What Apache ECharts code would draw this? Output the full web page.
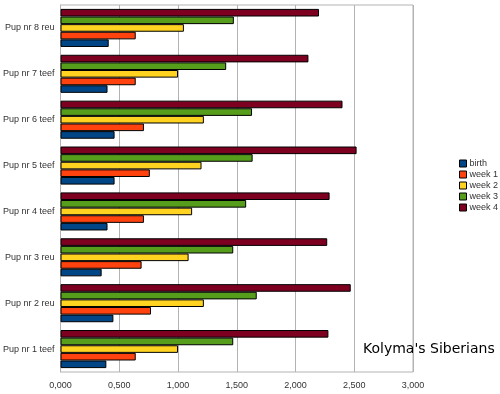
<!DOCTYPE html>
<html><head><meta charset="utf-8">
<script src="https://cdn.jsdelivr.net/npm/echarts@6/dist/echarts.min.js"></script>
<style>html,body{margin:0;padding:0;background:#fff}#c{width:500px;height:394px}</style>
</head><body><div id="c"></div>
<script>
var categories = ['Pup nr 1 teef','Pup nr 2 reu','Pup nr 3 reu','Pup nr 4 teef','Pup nr 5 teef','Pup nr 6 teef','Pup nr 7 teef','Pup nr 8 reu'];
var seriesNames = ['birth','week 1','week 2','week 3','week 4'];
var birth = [0.39,0.45,0.35,0.40,0.46,0.46,0.40,0.41];
var week1 = [0.64,0.77,0.69,0.71,0.76,0.71,0.64,0.64];
var week2 = [1.00,1.22,1.09,1.12,1.20,1.22,1.00,1.05];
var week3 = [1.47,1.67,1.47,1.58,1.635,1.63,1.41,1.475];
var week4 = [2.28,2.47,2.27,2.29,2.52,2.40,2.11,2.20];
var colors = ['#004586','#ff420e','#ffd320','#579d1c','#7e0021'];
var allData = [birth, week1, week2, week3, week4];

var series = seriesNames.map(function(n, i){
  return {name: n, type: 'bar', data: allData[i], barGap: '0%', barCategoryGap: '17%',
    itemStyle: {color: colors[i], borderColor: '#000', borderWidth: 1}};
}).reverse();

var chart = echarts.init(document.getElementById('c'));
chart.setOption({
  animation: false,
  backgroundColor: '#fff',
  grid: {left: 59, right: 87, top: 5, bottom: 22, show: true, borderColor: '#b3b3b3', borderWidth: 1},
  legend: {
    orient: 'vertical', left: 459, top: 159, width: 60, itemWidth: 7, itemHeight: 7, itemGap: 2,
    icon: 'rect', padding: 0,
    itemStyle: {borderColor: '#000', borderWidth: 1},
    textStyle: {fontSize: 9, color: '#333', fontFamily: 'Liberation Sans', padding: [0,0,0,-2]},
    data: seriesNames
  },
  xAxis: {
    type: 'value', min: 0, max: 3, interval: 0.5,
    axisLine: {show: false}, axisTick: {show: false},
    splitLine: {lineStyle: {color: '#b3b3b3'}},
    axisLabel: {fontSize: 9, color: '#333', fontFamily: 'Liberation Sans', margin: 9,
      formatter: function(v){ return v.toFixed(3).replace('.', ','); }}
  },
  yAxis: {
    type: 'category', data: categories,
    axisLine: {lineStyle: {color: '#b3b3b3'}},
    axisTick: {length: 3, lineStyle: {color: '#b3b3b3'}},
    axisLabel: {fontSize: 9, color: '#333', fontFamily: 'Liberation Sans', margin: 6}
  },
  graphic: [{type: 'text', left: 363, top: 342, style: {text: "Kolyma's Siberians", fontSize: 14, fill: '#000', fontFamily: 'DejaVu Sans'}}],
  series: series
});
</script></body></html>
